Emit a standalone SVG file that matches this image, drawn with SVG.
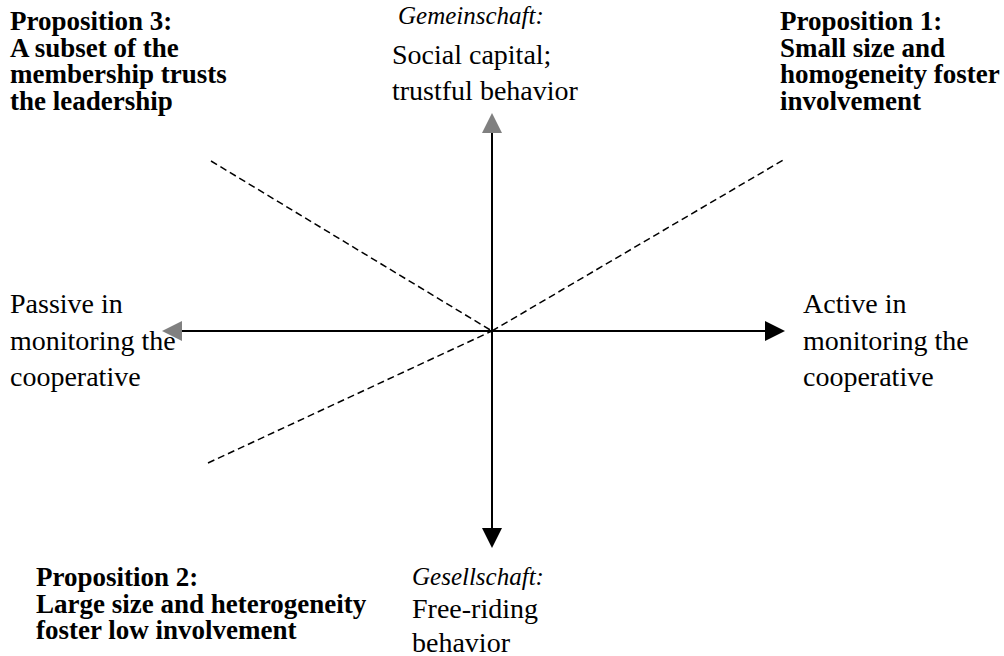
<svg xmlns="http://www.w3.org/2000/svg" width="1004" height="656" viewBox="0 0 1004 656">
<style>
.b{font-family:"Liberation Serif","Times New Roman",serif;font-weight:bold;font-size:27px;fill:#000}
.r{font-family:"Liberation Serif","Times New Roman",serif;font-size:28px;fill:#000}
.i{font-style:italic;font-size:25px}
.axis{stroke:#000;stroke-width:2;fill:none}
.dash{stroke:#000;stroke-width:1.5;stroke-dasharray:7 4;fill:none}
</style>
<defs>
<marker id="ah" viewBox="0 0 20 20" refX="0" refY="10" markerWidth="20" markerHeight="20" markerUnits="userSpaceOnUse" orient="auto"><path d="M0,0 L20,10 L0,20 Z" fill="#000"/></marker>
<marker id="ahg" viewBox="0 0 20 20" refX="0" refY="10" markerWidth="20" markerHeight="20" markerUnits="userSpaceOnUse" orient="auto"><path d="M0,0 L20,10 L0,20 Z" fill="#808080"/></marker>
</defs>
<rect width="1004" height="656" fill="#fff"/>
<g id="connectors">
<line class="dash" x1="211" y1="161" x2="492" y2="331"/>
<line class="dash" x1="208" y1="463" x2="492" y2="331"/>
<line class="dash" x1="492" y1="331" x2="785" y2="159"/>
<line class="axis" x1="492" y1="331" x2="182" y2="331" marker-end="url(#ahg)"/>
<line class="axis" x1="492" y1="331" x2="765" y2="331" marker-end="url(#ah)"/>
<line class="axis" x1="492" y1="331" x2="492" y2="133" marker-end="url(#ahg)"/>
<line class="axis" x1="492" y1="331" x2="492" y2="528" marker-end="url(#ah)"/>
</g>
<g id="prop3">
<text class="b" x="10" y="30">Proposition 3:</text>
<text class="b" x="10" y="57">A subset of the</text>
<text class="b" x="10" y="83">membership trusts</text>
<text class="b" x="10" y="110">the leadership</text>
</g>
<g id="prop1">
<text class="b" x="780" y="30">Proposition 1:</text>
<text class="b" x="780" y="57">Small size and</text>
<text class="b" x="780" y="83">homogeneity foster</text>
<text class="b" x="780" y="110">involvement</text>
</g>
<g id="prop2">
<text class="b" x="36" y="586">Proposition 2:</text>
<text class="b" x="36" y="613">Large size and heterogeneity</text>
<text class="b" x="36" y="639">foster low involvement</text>
</g>
<g id="gemeinschaft">
<text class="r i" x="398" y="24">Gemeinschaft:</text>
<text class="r" x="392" y="64">Social capital;</text>
<text class="r" x="392" y="100">trustful behavior</text>
</g>
<g id="gesellschaft">
<text class="r i" x="412" y="585">Gesellschaft:</text>
<text class="r" x="412" y="618">Free-riding</text>
<text class="r" x="412" y="652">behavior</text>
</g>
<g id="passive">
<text class="r" x="10" y="313">Passive in</text>
<text class="r" x="10" y="350">monitoring the</text>
<text class="r" x="10" y="386">cooperative</text>
</g>
<g id="active">
<text class="r" x="803" y="313">Active in</text>
<text class="r" x="803" y="350">monitoring the</text>
<text class="r" x="803" y="386">cooperative</text>
</g>
</svg>
